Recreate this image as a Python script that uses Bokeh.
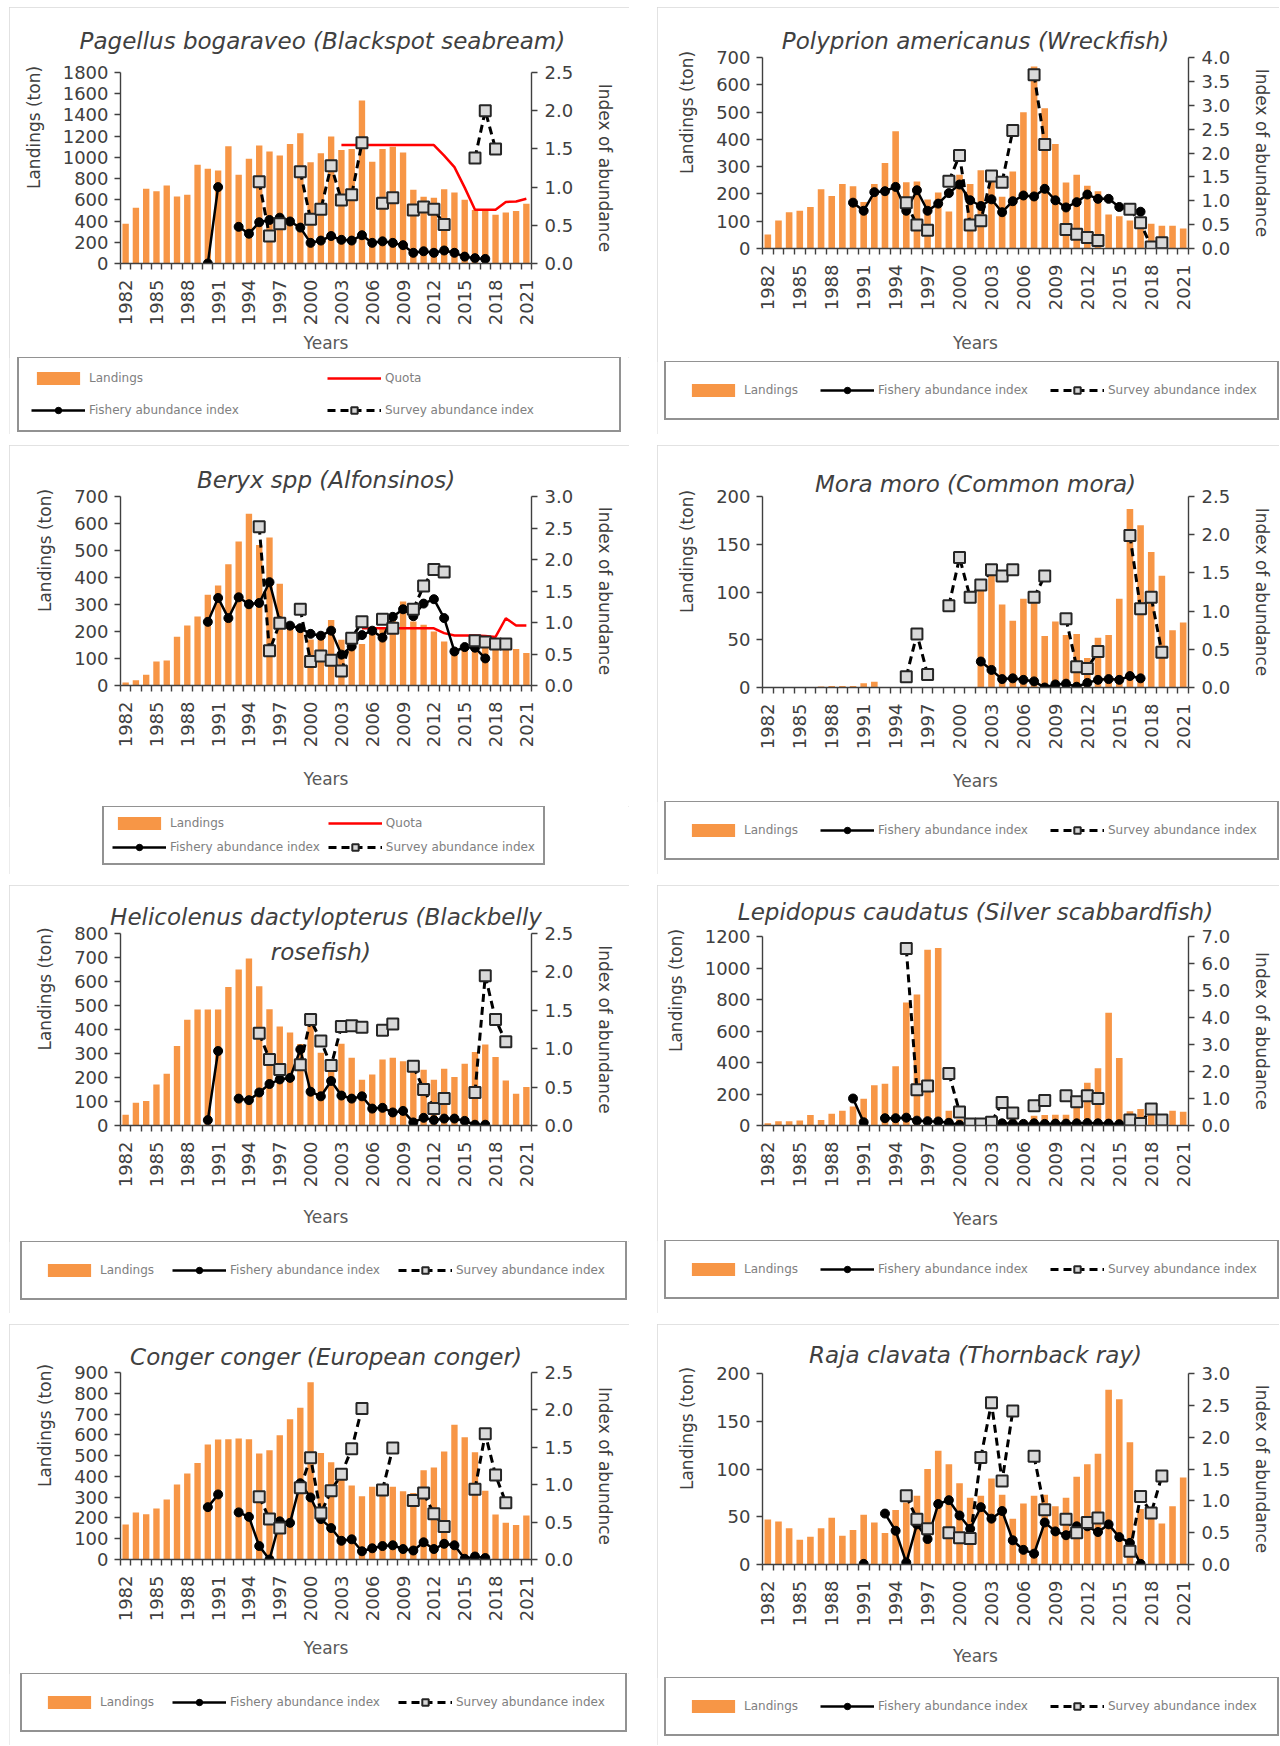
import math
from bokeh.plotting import figure
from bokeh.models import (Range1d, LinearAxis, FixedTicker, NumeralTickFormatter,
                          Legend, LegendItem, Label, Spacer)
from bokeh.layouts import column, row
from bokeh.embed import file_html
from bokeh.resources import INLINE

FONT = "DejaVu Sans"
AX = "#404040"
BAR = "#F79646"
NBSP = "\u00a0"

YEARS = list(range(1982, 2022))
IDX_YEARS = list(range(1990, 2020))
X_LABEL_YEARS = list(range(1982, 2022, 3))

# ---------------- Pagellus bogaraveo ----------------
PAG_LANDINGS = [375, 525, 705, 680, 735, 632, 648, 930, 892, 876, 1105, 836, 986, 1111, 1055,
                1017, 1127, 1227, 955, 1040, 1196, 1070, 1080, 1535, 960, 1080, 1100, 1045, 695,
                630, 620, 700, 670, 600, 505, 510, 460, 480, 495, 563]
PAG_QUOTA_YEARS = list(range(2003, 2022))
PAG_QUOTA = [1116, 1116, 1116, 1116, 1116, 1116, 1116, 1116, 1116, 1116, 1017, 908, 715, 507,
             507, 507, 580, 585, 610]
PAG_FISHERY = [0.0, 1.0, None, 0.48, 0.39, 0.54, 0.57, 0.60, 0.55, 0.47, 0.27, 0.30, 0.36, 0.31,
               0.30, 0.37, 0.27, 0.29, 0.27, 0.24, 0.14, 0.16, 0.14, 0.17, 0.14, 0.09, 0.07, 0.06,
               None, None]
PAG_SURVEY = [None, None, None, None, None, 1.07, 0.36, 0.52, None, 1.20, 0.58, 0.71, 1.28, 0.83,
              0.90, 1.58, None, 0.79, 0.86, None, 0.70, 0.74, 0.71, 0.51, None, None, 1.38, 2.00,
              1.50, None]

# ---------------- Polyprion americanus ----------------
POL_LANDINGS = [51, 103, 133, 138, 152, 217, 192, 236, 228, 170, 236, 313, 430, 243, 246, 180,
                205, 136, 270, 236, 287, 270, 190, 282, 499, 667, 514, 383, 242, 270, 230, 210,
                125, 118, 103, 100, 91, 83, 83, 73]
POL_FISHERY = [0.96, 0.79, 1.18, 1.20, 1.29, 0.79, 1.22, 0.79, 0.94, 1.16, 1.34, 1.01, 0.89, 1.03,
               0.76, 0.99, 1.11, 1.09, 1.25, 1.01, 0.86, 0.97, 1.13, 1.04, 1.04, 0.87, 0.81, 0.77,
               None, None]
POL_SURVEY = [None, None, None, None, None, 0.96, 0.49, 0.38, None, 1.41, 1.95, 0.49, 0.58, 1.52,
              1.39, 2.47, None, 3.64, 2.18, None, 0.40, 0.30, 0.23, 0.17, None, None, 0.82, 0.54,
              0.03, 0.12]

# ---------------- Beryx spp ----------------
BER_LANDINGS = [11, 19, 40, 89, 93, 181, 222, 256, 336, 370, 449, 533, 636, 520, 548, 377, 225,
                210, 170, 185, 243, 169, 155, 154, 205, 215, 240, 311, 237, 225, 200, 163, 138,
                150, 160, 150, 140, 150, 135, 120]
BER_QUOTA_YEARS = list(range(2005, 2022))
BER_QUOTA = [212, 212, 212, 212, 212, 212, 212, 212, 194, 185, 185, 185, 183, 180, 249, 222, 222]
BER_FISHERY = [1.01, 1.39, 1.07, 1.40, 1.29, 1.31, 1.64, 1.02, 0.95, 0.91, 0.82, 0.79, 0.87, 0.49,
               0.62, 0.80, 0.87, 0.76, 1.09, 1.21, 1.10, 1.30, 1.37, 1.07, 0.54, 0.61, 0.60, 0.43,
               None, None]
BER_SURVEY = [None, None, None, None, None, 2.52, 0.55, 0.99, None, 1.21, 0.38, 0.47, 0.40, 0.23,
              0.75, 1.01, None, 1.05, 0.91, None, 1.21, 1.58, 1.84, 1.80, None, None, 0.71, 0.69,
              0.66, 0.66]

# ---------------- Mora moro ----------------
MOR_LANDINGS = [0, 0, 0, 0, 0, 1, 1.5, 1.5, 1.5, 4.5, 6, 0, 0, 0, 0, 0, 0, 0, 0, 0, 105, 120, 87,
                70, 93, 90, 54, 69, 55, 56, 31, 52, 55, 93, 187, 170, 142, 117, 60, 68]
MOR_FISHERY = [None, None, None, None, None, None, None, None, None, None, None, None, 0.34, 0.23,
               0.11, 0.12, 0.10, 0.08, 0.0, 0.04, 0.05, 0.01, 0.06, 0.10, 0.11, 0.10, 0.15, 0.12,
               None, None]
MOR_SURVEY = [None, None, None, None, None, 0.14, 0.70, 0.17, None, 1.07, 1.70, 1.18, 1.34, 1.54,
              1.46, 1.54, None, 1.18, 1.46, None, 0.90, 0.27, 0.25, 0.47, None, None, 1.99, 1.03,
              1.18, 0.46]

# ---------------- Helicolenus dactylopterus ----------------
HEL_LANDINGS = [45, 95, 102, 171, 216, 331, 441, 483, 483, 483, 577, 650, 696, 580, 484, 413, 387,
                340, 417, 303, 270, 341, 282, 191, 213, 275, 282, 268, 227, 232, 191, 236, 202,
                257, 306, 337, 285, 188, 132, 160]
HEL_FISHERY = [0.07, 0.97, None, 0.35, 0.33, 0.43, 0.54, 0.60, 0.62, 0.99, 0.44, 0.38, 0.58, 0.39,
               0.35, 0.38, 0.22, 0.23, 0.17, 0.19, 0.04, 0.10, 0.07, 0.09, 0.09, 0.06, 0.01, 0.01,
               None, None]
HEL_SURVEY = [None, None, None, None, None, 1.20, 0.86, 0.73, None, 0.79, 1.38, 1.10, 0.78, 1.29,
              1.30, 1.28, None, 1.24, 1.32, None, 0.77, 0.47, 0.22, 0.35, None, None, 0.43, 1.95,
              1.38, 1.09]

# ---------------- Lepidopus caudatus ----------------
LEP_LANDINGS = [15, 27, 27, 31, 67, 35, 75, 94, 120, 170, 256, 265, 376, 781, 831, 1116, 1127, 94,
                40, 12, 15, 20, 35, 50, 35, 62, 67, 68, 69, 150, 271, 363, 716, 429, 90, 104, 70,
                73, 94, 87]
LEP_FISHERY = [1.00, 0.12, None, 0.27, 0.27, 0.29, 0.18, 0.16, 0.15, 0.10, 0.02, 0.02, 0.02, 0.03,
               0.08, 0.07, 0.06, 0.08, 0.06, 0.07, 0.07, 0.08, 0.09, 0.08, 0.07, 0.05, 0.04, None,
               None, None]
LEP_SURVEY = [None, None, None, None, None, 6.56, 1.32, 1.46, None, 1.93, 0.50, 0.06, 0.06, 0.12,
              0.85, 0.46, None, 0.73, 0.93, None, 1.10, 0.88, 1.10, 1.00, None, None, 0.20, 0.07,
              0.61, 0.20]

# ---------------- Conger conger ----------------
CON_LANDINGS = [168, 226, 218, 245, 289, 361, 414, 465, 553, 578, 579, 582, 579, 510, 526, 598,
                675, 730, 853, 513, 468, 420, 356, 305, 350, 350, 350, 328, 320, 430, 443, 520,
                648, 588, 516, 331, 217, 177, 166, 212]
CON_FISHERY = [0.70, 0.87, None, 0.63, 0.57, 0.18, 0.0, 0.51, 0.49, 1.02, 0.83, 0.54, 0.42, 0.25,
               0.27, 0.11, 0.15, 0.18, 0.19, 0.14, 0.12, 0.23, 0.14, 0.21, 0.19, 0.01, 0.04, 0.02,
               None, None]
CON_SURVEY = [None, None, None, None, None, 0.84, 0.54, 0.42, None, 0.96, 1.36, 0.62, 0.92, 1.14,
              1.48, 2.02, None, 0.93, 1.49, None, 0.79, 0.89, 0.61, 0.44, None, None, 0.94, 1.68,
              1.13, 0.76]

# ---------------- Raja clavata ----------------
RAJ_LANDINGS = [47, 45, 38, 26, 29, 38, 49, 30, 36, 52, 44, 33, 57, 65, 72, 100, 119, 105, 85, 70,
                72, 90, 73, 48, 64, 72, 73, 61, 70, 92, 105, 116, 183, 173, 128, 58, 53, 43, 61, 91]
RAJ_FISHERY = [None, 0.01, None, 0.80, 0.53, 0.03, 0.63, 0.40, 0.95, 1.01, 0.77, 0.56, 0.90, 0.72,
               0.84, 0.38, 0.23, 0.17, 0.66, 0.52, 0.46, 0.60, 0.60, 0.51, 0.63, 0.43, 0.34, 0.01,
               None, None]
RAJ_SURVEY = [None, None, None, None, None, 1.08, 0.71, 0.56, None, 0.50, 0.42, 0.41, 1.68, 2.54,
              1.31, 2.41, None, 1.70, 0.86, None, 0.71, 0.50, 0.66, 0.73, None, None, 0.21, 1.07,
              0.81, 1.39]


def nanlist(v):
    return [float("nan") if a is None else a for a in v]


def frange(stop, step):
    out, k = [], 0
    while k * step <= stop + 1e-9:
        out.append(round(k * step, 6))
        k += 1
    return out


def style_axis(ax):
    ax.axis_line_color = AX
    ax.axis_line_width = 1.4
    ax.major_tick_line_color = AX
    ax.major_tick_line_width = 1.4
    ax.minor_tick_line_color = AX
    ax.minor_tick_line_width = 1.4
    ax.major_tick_in = 0
    ax.major_tick_out = 6
    ax.minor_tick_in = 0
    ax.minor_tick_out = 0
    ax.major_label_text_font = FONT
    ax.major_label_text_font_size = "18px"
    ax.major_label_text_color = "#404040"
    ax.axis_label_text_font = FONT
    ax.axis_label_text_font_size = "17px"
    ax.axis_label_text_font_style = "normal"
    ax.axis_label_text_color = "#404040"


FISH_LINE = dict(line_color="black", line_width=2.5)
FISH_MARK = dict(marker="circle", size=9, fill_color="black", line_color="black")
SURV_LINE = dict(line_color="black", line_width=3, line_dash="8 5")
SURV_MARK = dict(marker="square", size=11, fill_color="#D9D9D9", line_color="#262626",
                 line_width=2)
QUOTA_LINE = dict(line_color="#FF0000", line_width=2.5)


def make_main(title, landings, fishery, survey, ymax, ystep, rmax, rstep, rlabel, cfg,
              quota=None, title2=None):
    L, R, T, B = cfg["border"]
    p = figure(width=cfg["w"], height=cfg["h"], output_backend="svg", toolbar_location=None,
               x_range=Range1d(1981.5, 2021.5), y_range=Range1d(0, ymax),
               x_axis_type=None, y_axis_type=None, title=title,
               min_border_left=L, min_border_right=R, min_border_top=T, min_border_bottom=B)
    p.outline_line_color = None
    p.background_fill_color = "white"
    p.border_fill_color = "white"
    p.title.text_font = FONT
    p.title.text_font_style = "italic"
    p.title.text_font_size = "23px"
    p.title.text_color = "#404040"
    p.title.align = "center"
    p.title.standoff = cfg["ts"]
    p.extra_y_ranges = {"idx": Range1d(0, rmax)}

    # the left axis title sits above the middle of the axis, as in the original
    ya = LinearAxis(ticker=FixedTicker(ticks=frange(ymax, ystep)),
                    axis_label=NBSP * 15 + "Landings (ton)")
    style_axis(ya)
    ya.major_label_standoff = 6
    ya.axis_label_standoff = 16
    p.add_layout(ya, "left")

    ra = LinearAxis(y_range_name="idx", ticker=FixedTicker(ticks=frange(rmax, rstep)),
                    formatter=NumeralTickFormatter(format="0.0"), axis_label=rlabel)
    style_axis(ra)
    ra.major_label_standoff = 7
    ra.axis_label_standoff = 19
    p.add_layout(ra, "right")

    xa = LinearAxis(ticker=FixedTicker(ticks=X_LABEL_YEARS,
                                       minor_ticks=[y + 0.5 for y in range(1981, 2022)]),
                    axis_label="Years")
    style_axis(xa)
    xa.major_tick_out = 0
    xa.minor_tick_out = 6
    xa.major_label_orientation = math.pi / 2
    xa.major_label_standoff = 10
    xa.axis_label_standoff = cfg["xals"]
    xa.axis_label_text_color = "#595959"
    p.add_layout(xa, "below")

    p.vbar(x=YEARS, top=landings, width=0.62, fill_color=BAR, line_color=None)
    if quota is not None:
        p.line(quota[0], quota[1], **QUOTA_LINE)
    fv = nanlist(fishery)
    sv = nanlist(survey)
    p.line(IDX_YEARS, fv, y_range_name="idx", **FISH_LINE)
    p.scatter(IDX_YEARS, fv, y_range_name="idx", **FISH_MARK)
    p.line(IDX_YEARS, sv, y_range_name="idx", **SURV_LINE)
    p.scatter(IDX_YEARS, sv, y_range_name="idx", **SURV_MARK)

    if title2 is not None:
        p.add_layout(Label(x=title2[1], y=title2[2], text=title2[0], text_align="center",
                           text_baseline="middle", text_font=FONT, text_font_style="italic",
                           text_font_size="23px", text_color="#404040"))
    return p


def make_legend(width, height, with_quota, lg):
    f = figure(width=width, height=height, output_backend="svg", toolbar_location=None,
               x_range=Range1d(0, 1), y_range=Range1d(0, 1), x_axis_type=None,
               y_axis_type=None, min_border=0, min_border_left=0, min_border_right=0,
               min_border_top=0, min_border_bottom=0)
    f.outline_line_color = None
    f.background_fill_color = "white"
    f.border_fill_color = "white"
    # legend-only renderers, placed outside the visible range
    bx = f.vbar(x=[5], top=[6], bottom=[5], width=0.5, fill_color=BAR, line_color=None)
    items = [LegendItem(label="Landings", renderers=[bx])]
    if with_quota:
        q = f.line([5, 6], [5, 6], **QUOTA_LINE)
        items.append(LegendItem(label="Quota", renderers=[q]))
    fl = f.line([5, 6], [5, 6], **FISH_LINE)
    fm = f.scatter([5], [5], **FISH_MARK)
    sl = f.line([5, 6], [5, 6], **SURV_LINE)
    sm = f.scatter([5], [5], **SURV_MARK)
    items.append(LegendItem(label="Fishery abundance index", renderers=[fl, fm]))
    items.append(LegendItem(label="Survey abundance index", renderers=[sl, sm]))

    nrows = 2 if lg.get("ncols") else 1
    leg_h = 2 * lg["pad"] + nrows * 16 + (nrows - 1) * lg["sp"]
    leg = Legend(items=items, orientation="horizontal",
                 location=(lg["left"], height - 3 - leg_h), margin=0,
                 padding=lg["pad"], spacing=lg["sp"], label_width=lg["lw"],
                 label_height=14, glyph_width=54, glyph_height=16, label_standoff=4,
                 label_text_font=FONT, label_text_font_size="12px",
                 label_text_color="#808080", border_line_color="#262626",
                 border_line_width=2, background_fill_color="white",
                 background_fill_alpha=1.0)
    if lg.get("ncols"):
        leg.ncols = lg["ncols"]
    f.add_layout(leg)
    return f


def make_panel(title, landings, fishery, survey, ymax, ystep, rmax, rstep, rlabel, cfg,
               quota=None, title2=None):
    main_h = cfg["legend"]["top"] - 3
    mcfg = dict(cfg)
    mcfg["h"] = main_h
    L, R, T, fb = cfg["frame"]
    mcfg["border"] = (L, R, T, main_h - fb)
    p = make_main(title, landings, fishery, survey, ymax, ystep, rmax, rstep, rlabel, mcfg,
                  quota=quota, title2=title2)
    lf = make_legend(cfg["w"], cfg["ph"] - main_h, quota is not None, cfg["legend"])
    # the legend figure is wrapped so that its frame is not aligned with the chart's frame
    return column(p, row(lf), spacing=0,
                  styles={"outline": "1px solid #d9d9d9", "outline-offset": "-1px"})


LEFT_W, RIGHT_W = 620, 622


def leg1(left, top, sp=22):
    return dict(pad=20, sp=sp, lw=0, left=left, top=top)


p1 = make_panel("Pagellus  bogaraveo (Blackspot seabream)", PAG_LANDINGS, PAG_FISHERY,
                PAG_SURVEY, 1800, 200, 2.5, 0.5, "Index of abundance",
                dict(w=LEFT_W, ph=427, frame=(111, 98, 65, 256), ts=37, xals=5,
                     legend=dict(ncols=2, pad=12, sp=16, lw=222, left=8, top=353)),
                quota=(PAG_QUOTA_YEARS, PAG_QUOTA))
p2 = make_panel("Polyprion americanus (Wreckfish)", POL_LANDINGS, POL_FISHERY, POL_SURVEY,
                700, 100, 4.0, 0.5, "Index of abundance",
                dict(w=RIGHT_W, ph=427, frame=(105, 91, 50, 241), ts=7, xals=20,
                     legend=leg1(7, 357)))
p3 = make_panel("Beryx spp (Alfonsinos)", BER_LANDINGS, BER_FISHERY, BER_SURVEY,
                700, 100, 3.0, 0.5, "Index of abundance",
                dict(w=LEFT_W, ph=429, frame=(111, 98, 51, 240), ts=7, xals=19,
                     legend=dict(ncols=2, pad=8, sp=8, lw=140, left=93, top=364)),
                quota=(BER_QUOTA_YEARS, BER_QUOTA))
p4 = make_panel("Mora moro (Common mora)", MOR_LANDINGS, MOR_FISHERY, MOR_SURVEY,
                200, 50, 2.5, 0.5, "Index of abundance",
                dict(w=RIGHT_W, ph=429, frame=(105, 91, 51, 242), ts=0, xals=19,
                     legend=leg1(7, 359)))
p5 = make_panel("Helicolenus dactylopterus (Blackbelly", HEL_LANDINGS, HEL_FISHERY, HEL_SURVEY,
                800, 100, 2.5, 0.5, "Index of abundance",
                dict(w=LEFT_W, ph=428, frame=(111, 98, 48, 240), ts=7, xals=17,
                     legend=leg1(11, 359, sp=18)),
                title2=("rosefish)", 2001, 721))
p6 = make_panel("Lepidopus caudatus (Silver scabbardfish)", LEP_LANDINGS, LEP_FISHERY,
                LEP_SURVEY, 1200, 200, 7.0, 1.0, "Index of abudance",
                dict(w=RIGHT_W, ph=428, frame=(105, 91, 49, 240), ts=23, xals=19,
                     legend=leg1(7, 358)))
p7 = make_panel("Conger conger (European conger)", CON_LANDINGS, CON_FISHERY, CON_SURVEY,
                900, 100, 2.5, 0.5, "Index of abundnce",
                dict(w=LEFT_W, ph=421, frame=(111, 98, 48, 235), ts=5, xals=14,
                     legend=leg1(11, 352, sp=18)))
p8 = make_panel("Raja clavata (Thornback ray)", RAJ_LANDINGS, RAJ_FISHERY, RAJ_SURVEY,
                200, 50, 3.0, 0.5, "Index of abundance",
                dict(w=RIGHT_W, ph=421, frame=(105, 91, 49, 240), ts=11, xals=17,
                     legend=leg1(7, 356)))

grid = column(row(p1, p2, spacing=28), row(p3, p4, spacing=28),
              row(p5, p6, spacing=28), row(p7, p8, spacing=28), spacing=11)
page = column(Spacer(width=10, height=7), row(Spacer(width=9, height=10), grid))

open("out.html", "w").write(file_html(page, INLINE))
